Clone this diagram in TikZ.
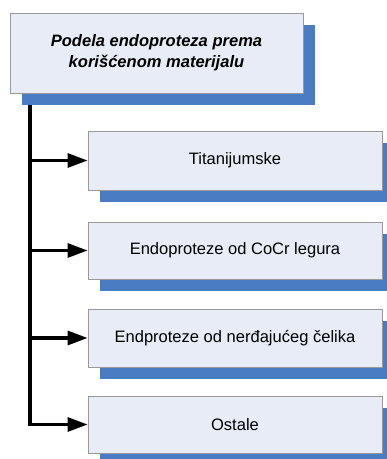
\documentclass[tikz,border=0pt]{standalone}
\usepackage{fontspec}
\setmainfont{Liberation Sans}
\usetikzlibrary{shadows,arrows.meta,backgrounds}
\definecolor{boxfill}{HTML}{E7ECF7}
\definecolor{boxline}{HTML}{999999}
\definecolor{shadowblue}{HTML}{4A7CC4}
\tikzset{
  cbox/.style={draw=boxline, line width=0.6pt, fill=boxfill, rectangle, inner sep=0pt,
    drop shadow={shadow xshift=9pt, shadow yshift=-9pt, fill=shadowblue, opacity=1},
    font=\fontsize{12.4}{15.5}\selectfont, align=center},
  conn/.style={line width=2.3pt, -{Triangle[length=15pt,width=10.5pt]}},
}
\begin{document}
\begin{tikzpicture}[x=0.75pt,y=-0.75pt]
\useasboundingbox (0,0) rectangle (386,459);
\node[cbox, minimum width=293*0.75pt, minimum height=80*0.75pt, font=\fontsize{12.4}{15.5}\selectfont\bfseries\itshape] (top) at (156.5,53) {Podela endoproteza prema\\korišćenom materijalu};
\node[cbox, minimum width=294*0.75pt, minimum height=59*0.75pt] (b1) at (235,160.5) {Titanijumske};
\node[cbox, minimum width=294*0.75pt, minimum height=57*0.75pt] (b2) at (235,250.5) {Endoproteze od CoCr legura};
\node[cbox, minimum width=294*0.75pt, minimum height=58*0.75pt] (b3) at (235,338) {Endproteze od nerđajućeg čelika};
\node[cbox, minimum width=294*0.75pt, minimum height=57*0.75pt] (b4) at (235,424.5) {Ostale};
\coordinate (trunk) at (30,93);
\begin{pgfonlayer}{background}
\draw[conn] (trunk) |- (b4.west);
\draw[conn] (trunk |- b1.west) -- (b1.west);
\draw[conn] (trunk |- b2.west) -- (b2.west);
\draw[conn] (trunk |- b3.west) -- (b3.west);
\end{pgfonlayer}
\end{tikzpicture}
\end{document}
